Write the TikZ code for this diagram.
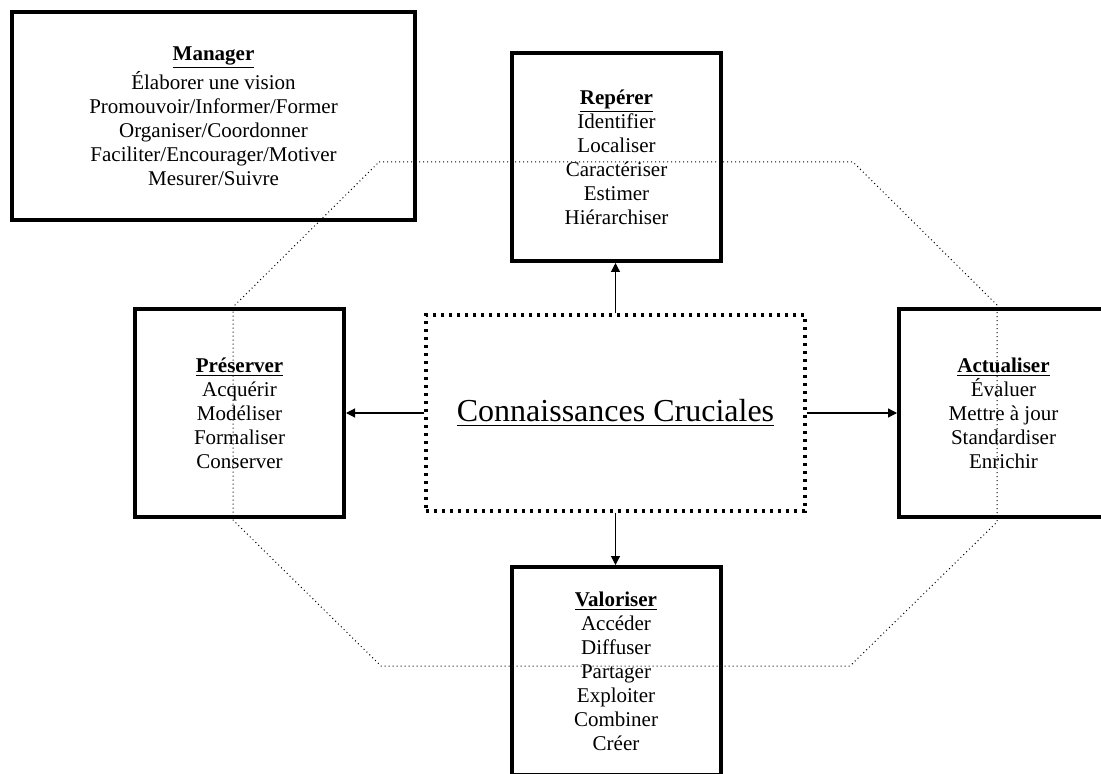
\documentclass[tikz,border=0pt]{standalone}
\usepackage{fontspec}
\setmainfont{Liberation Serif}
\usetikzlibrary{arrows.meta}
\tikzset{
  box/.style={draw=black, line width=2pt, minimum width=104.5pt, minimum height=104pt,
    align=center, inner sep=0pt, font=\fontsize{10.5}{12}\selectfont},
  centre/.style={draw=black, line width=1.7pt, dash pattern=on 1.7pt off 2.3pt,
    minimum width=189.5pt, minimum height=98pt, inner sep=0pt,
    font=\fontsize{16}{18}\selectfont},
  conn/.style={line width=0.6pt, -{Triangle[length=4.5pt,width=4.5pt]}},
  octo/.style={line width=0.5pt, dash pattern=on 0.5pt off 1.5pt},
}
\newcommand{\ttl}[1]{\underline{\textbf{#1}}}
\begin{document}
\begin{tikzpicture}[x=0.5pt,y=-0.5pt]
\useasboundingbox (0,0) rectangle (1101,774);
\fill[white] (0,0) rectangle (1101,774);
\clip (0,0) rectangle (1101,774);
% octagon
\coordinate (o1) at (379,162);
\coordinate (o2) at (853,162);
\coordinate (o3) at (997,305);
\coordinate (o4) at (997,522);
\coordinate (o5) at (850,666);
\coordinate (o6) at (381,666);
\coordinate (o7) at (233,520);
\coordinate (o8) at (233,307);
\draw[octo] (o1) -- (o2) -- (o3) -- (o4) -- (o5) -- (o6) -- (o7) -- (o8) -- cycle;
% boxes
\node[box, minimum width=201.5pt] (man) at (213.5,116) {\ttl{Manager}\\Élaborer une vision\\Promouvoir/Informer/Former\\Organiser/Coordonner\\Faciliter/Encourager/Motiver\\Mesurer/Suivre};
\node[box] (rep) at (616.5,157) {\ttl{Repérer}\\Identifier\\Localiser\\Caractériser\\Estimer\\Hiérarchiser};
\node[box] (pre) at (239.5,413) {\ttl{Préserver}\\Acquérir\\Modéliser\\Formaliser\\Conserver};
\node[box] (act) at (1003.5,413) {\ttl{Actualiser}\\Évaluer\\Mettre à jour\\Standardiser\\Enrichir};
\node[box] (val) at (616,671) {\ttl{Valoriser}\\Accéder\\Diffuser\\Partager\\Exploiter\\Combiner\\Créer};
\node[centre] (cc) at (615.5,413) {\underline{Connaissances Cruciales}};
% connectors
\draw[conn] (cc.north) -- (cc.north |- rep.south);
\draw[conn] (cc.south) -- (cc.south |- val.north);
\draw[conn] (cc.west) -- (cc.west -| pre.east);
\draw[conn] (cc.east) -- (cc.east -| act.west);
\end{tikzpicture}
\end{document}
